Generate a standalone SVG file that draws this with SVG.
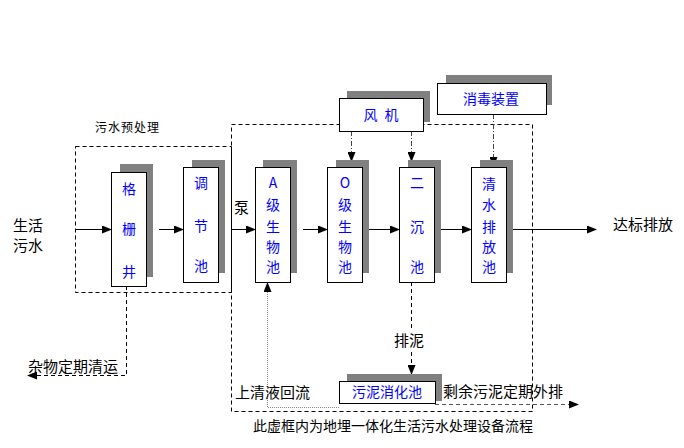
<svg xmlns="http://www.w3.org/2000/svg" width="684" height="448" viewBox="0 0 684 448">
<style>
text{font-family:"Noto Sans CJK SC","Liberation Sans",sans-serif;}
.lbl{font-size:15px;fill:#000;}
.bt{font-size:14px;fill:#0000FF;text-anchor:middle;}
.box{fill:#fff;stroke:#000;stroke-width:1;}
.sh{fill:#808080;}
.ln{stroke:#000;stroke-width:1;fill:none;}
.dash{stroke:#000;stroke-width:1;fill:none;stroke-dasharray:4,3;}
.dd{stroke:#444;stroke-width:1;fill:none;stroke-dasharray:5,2,1,2;}
.gd{stroke:#555;stroke-width:1;fill:none;stroke-dasharray:4,3;}
.dot{stroke:#888;stroke-width:1;fill:none;stroke-dasharray:1,1;}
</style>
<defs>
<marker id="ah" markerWidth="10" markerHeight="8" refX="9" refY="4" orient="auto" markerUnits="userSpaceOnUse"><path d="M0,0 L10,4 L0,8 Z" fill="#000"/></marker>
</defs>
<rect width="684" height="448" fill="#fff"/>
<g id="frames">
<rect x="75.5" y="146.5" width="156" height="146" class="dash"/>
<rect x="231.5" y="124.5" width="301" height="287" class="dash"/>
<line x1="231.5" y1="147" x2="231.5" y2="292" class="ln"/>
<text x="95" y="132" style="font-size:12px;letter-spacing:1px">污水预处理</text>
<text x="253" y="431" style="font-size:14px">此虚框内为地埋一体化生活污水处理设备流程</text>
</g>
<g id="connectors">
<line x1="75" y1="229.5" x2="111" y2="229.5" class="ln" marker-end="url(#ah)"/>
<line x1="159" y1="229.5" x2="183" y2="229.5" class="ln" marker-end="url(#ah)"/>
<line x1="232" y1="229.5" x2="255" y2="229.5" class="ln" marker-end="url(#ah)"/>
<line x1="303" y1="229.5" x2="327" y2="229.5" class="ln" marker-end="url(#ah)"/>
<line x1="363" y1="229.5" x2="399" y2="229.5" class="ln" marker-end="url(#ah)"/>
<line x1="434" y1="229.5" x2="471" y2="229.5" class="ln" marker-end="url(#ah)"/>
<line x1="507" y1="229.5" x2="596" y2="229.5" class="ln" marker-end="url(#ah)"/>
<line x1="351.5" y1="131" x2="351.5" y2="161" class="dd" marker-end="url(#ah)"/>
<line x1="411.5" y1="131" x2="411.5" y2="161" class="dd" marker-end="url(#ah)"/>
<line x1="493.5" y1="114" x2="493.5" y2="166" class="dd" marker-end="url(#ah)"/>
<line x1="411.5" y1="282" x2="411.5" y2="374" class="dash" marker-end="url(#ah)"/>
<polyline points="126.5,286 126.5,375.5 28,375.5" class="dash" marker-end="url(#ah)"/>
<polyline points="339,407.5 267.5,407.5 267.5,283" class="dot" marker-end="url(#ah)"/>
<line x1="435" y1="404.5" x2="578" y2="404.5" class="gd" marker-end="url(#ah)"/>
</g>
<g id="labels">
<text x="13" y="231" class="lbl">生活</text>
<text x="13" y="251" class="lbl">污水</text>
<text x="234" y="213" class="lbl">泵</text>
<text x="613" y="230" class="lbl">达标排放</text>
<rect x="393" y="331" width="30" height="19" fill="#fff"/>
<text x="394" y="346" class="lbl">排泥</text>
<text x="28" y="372" class="lbl">杂物定期清运</text>
<text x="235" y="398" class="lbl">上清液回流</text>
<text x="443" y="397" class="lbl">剩余污泥定期外排</text>
</g>
<g id="n-geshanjing">
<rect x="120" y="164" width="33" height="113" class="sh"/>
<rect x="111.5" y="172.5" width="35" height="114" class="box"/>
<text x="129" y="194" class="bt">格</text>
<text x="129" y="234" class="bt">栅</text>
<text x="129" y="277" class="bt">井</text>
</g>
<g id="n-tiaojiechi">
<rect x="192" y="160" width="33" height="113" class="sh"/>
<rect x="183.5" y="167.5" width="35" height="115" class="box"/>
<text x="201" y="188" class="bt">调</text>
<text x="201" y="231" class="bt">节</text>
<text x="201" y="271" class="bt">池</text>
</g>
<g id="n-aji">
<rect x="263" y="160" width="34" height="113" class="sh"/>
<rect x="255.5" y="167.5" width="35" height="115" class="box"/>
<text x="273" y="188" class="bt">A</text>
<text x="273" y="210" class="bt">级</text>
<text x="273" y="232" class="bt">生</text>
<text x="273" y="252" class="bt">物</text>
<text x="273" y="272" class="bt">池</text>
</g>
<g id="n-oji">
<rect x="336" y="160" width="33" height="113" class="sh"/>
<rect x="327.5" y="167.5" width="35" height="115" class="box"/>
<text x="345" y="188" class="bt">O</text>
<text x="345" y="210" class="bt">级</text>
<text x="345" y="232" class="bt">生</text>
<text x="345" y="252" class="bt">物</text>
<text x="345" y="272" class="bt">池</text>
</g>
<g id="n-erchen">
<rect x="408" y="160" width="33" height="113" class="sh"/>
<rect x="399.5" y="167.5" width="35" height="115" class="box"/>
<text x="417" y="188" class="bt">二</text>
<text x="417" y="232" class="bt">沉</text>
<text x="417" y="272" class="bt">池</text>
</g>
<g id="n-qingshui">
<rect x="480" y="160" width="33" height="113" class="sh"/>
<rect x="471.5" y="167.5" width="35" height="115" class="box"/>
<text x="489" y="189" class="bt">清</text>
<text x="489" y="210" class="bt">水</text>
<text x="489" y="232" class="bt">排</text>
<text x="489" y="252" class="bt">放</text>
<text x="489" y="272" class="bt">池</text>
</g>
<g id="n-fengji">
<rect x="347" y="91" width="83" height="31" class="sh"/>
<rect x="339.5" y="98.5" width="84" height="33" class="box"/>
<text x="381" y="120" class="bt" style="word-spacing:4px">风 机</text>
</g>
<g id="n-xiaodu">
<rect x="446" y="75" width="106" height="30" class="sh"/>
<rect x="437.5" y="83.5" width="109" height="31" class="box"/>
<text x="491" y="104" class="bt">消毒装置</text>
</g>
<g id="n-wunixiaohua">
<rect x="347" y="374" width="95" height="27" class="sh"/>
<rect x="339.5" y="381.5" width="96" height="22" class="box"/>
<text x="387" y="397" class="bt">污泥消化池</text>
</g>
</svg>
